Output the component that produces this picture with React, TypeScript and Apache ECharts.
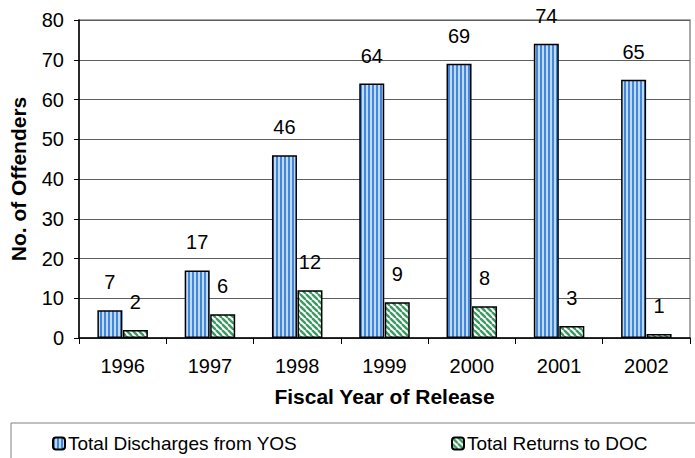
import React, { useEffect, useRef } from "react";
import * as echarts from "echarts";

const years = ["1996", "1997", "1998", "1999", "2000", "2001", "2002"];
const discharges = [7, 17, 46, 64, 69, 74, 65];
const returnsDoc = [2, 6, 12, 9, 8, 3, 1];
const seriesNames = ["Total Discharges from YOS", "Total Returns to DOC"];

function bluePattern(): HTMLCanvasElement {
  const c = document.createElement("canvas");
  c.width = 4;
  c.height = 4;
  const ctx = c.getContext("2d")!;
  ctx.fillStyle = "#c2d9f5";
  ctx.fillRect(0, 0, 4, 4);
  ctx.fillStyle = "#3f88dd";
  ctx.fillRect(0, 0, 2, 4);
  return c;
}

function greenPattern(): HTMLCanvasElement {
  const s = 6;
  const c = document.createElement("canvas");
  c.width = s;
  c.height = s;
  const ctx = c.getContext("2d")!;
  ctx.fillStyle = "#ffffff";
  ctx.fillRect(0, 0, s, s);
  ctx.strokeStyle = "#3a9a60";
  ctx.lineWidth = 2.4;
  for (const off of [-s, 0, s]) {
    ctx.beginPath();
    ctx.moveTo(off, 0);
    ctx.lineTo(off + s, s);
    ctx.stroke();
  }
  return c;
}

export default function App() {
  const ref = useRef<HTMLDivElement>(null);
  useEffect(() => {
    if (!ref.current) return;
    const chart = echarts.init(ref.current, undefined, { renderer: "svg" });
    const font = "'Liberation Sans', Arial, sans-serif";
    const blue = { image: bluePattern(), repeat: "repeat" } as any;
    const green = { image: greenPattern(), repeat: "repeat" } as any;
    const labelStyle = {
      show: true,
      position: "top" as const,
      distance: 18,
      fontFamily: font,
      fontSize: 20,
      color: "#000",
    };
    const legendText = { fontFamily: font, fontSize: 19, color: "#000", padding: [0, 0, 0, -2] };
    chart.setOption({
      animation: false,
      backgroundColor: "#fff",
      textStyle: { fontFamily: font },
      grid: {
        left: 78,
        right: 5,
        top: 20,
        bottom: 120,
        show: true,
        borderColor: "#8c8c8c",
        borderWidth: 1.5,
        containLabel: false,
      },
      graphic: [
        {
          type: "rect",
          shape: { x: 11, y: 423, width: 700, height: 60 },
          style: { fill: "none", stroke: "#808080", lineWidth: 1 },
        },
      ],
      legend: [
        {
          data: [seriesNames[0]],
          left: 47,
          top: 429,
          itemWidth: 12,
          itemHeight: 12,
          textStyle: legendText,
        },
        {
          data: [seriesNames[1]],
          left: 446,
          top: 429,
          itemWidth: 12,
          itemHeight: 12,
          textStyle: legendText,
        },
      ],
      xAxis: {
        type: "category",
        data: years,
        name: "Fiscal Year of Release",
        nameLocation: "middle",
        nameGap: 48,
        nameTextStyle: { fontFamily: font, fontSize: 21, fontWeight: "bold", color: "#000" },
        axisLine: { lineStyle: { color: "#000", width: 1.5 } },
        axisTick: { show: true, length: 6, lineStyle: { color: "#000" } },
        axisLabel: { fontFamily: font, fontSize: 20, color: "#000", margin: 18 },
      },
      yAxis: {
        type: "value",
        min: 0,
        max: 80,
        interval: 10,
        name: "No. of Offenders",
        nameLocation: "middle",
        nameGap: 50,
        nameRotate: 90,
        nameTextStyle: { fontFamily: font, fontSize: 21, fontWeight: "bold", color: "#000" },
        axisLine: { show: true, lineStyle: { color: "#000", width: 1.5 } },
        axisTick: { show: true, length: 5, lineStyle: { color: "#000" } },
        axisLabel: { fontFamily: font, fontSize: 20, color: "#000", margin: 15 },
        splitLine: { show: true, lineStyle: { color: "#5e5e5e", width: 1 } },
      },
      series: [
        {
          name: seriesNames[0],
          type: "bar",
          data: discharges,
          barWidth: 25,
          barGap: "2%",
          itemStyle: { color: blue, borderColor: "#000", borderWidth: 1.5 },
          label: labelStyle,
        },
        {
          name: seriesNames[1],
          type: "bar",
          data: returnsDoc,
          barWidth: 25,
          itemStyle: { color: green, borderColor: "#000", borderWidth: 1.5 },
          label: labelStyle,
        },
      ],
    });
    return () => chart.dispose();
  }, []);
  return (
    <div
      ref={ref}
      style={{ width: 695, height: 458, position: "absolute", left: 0, top: 0 }}
    />
  );
}
